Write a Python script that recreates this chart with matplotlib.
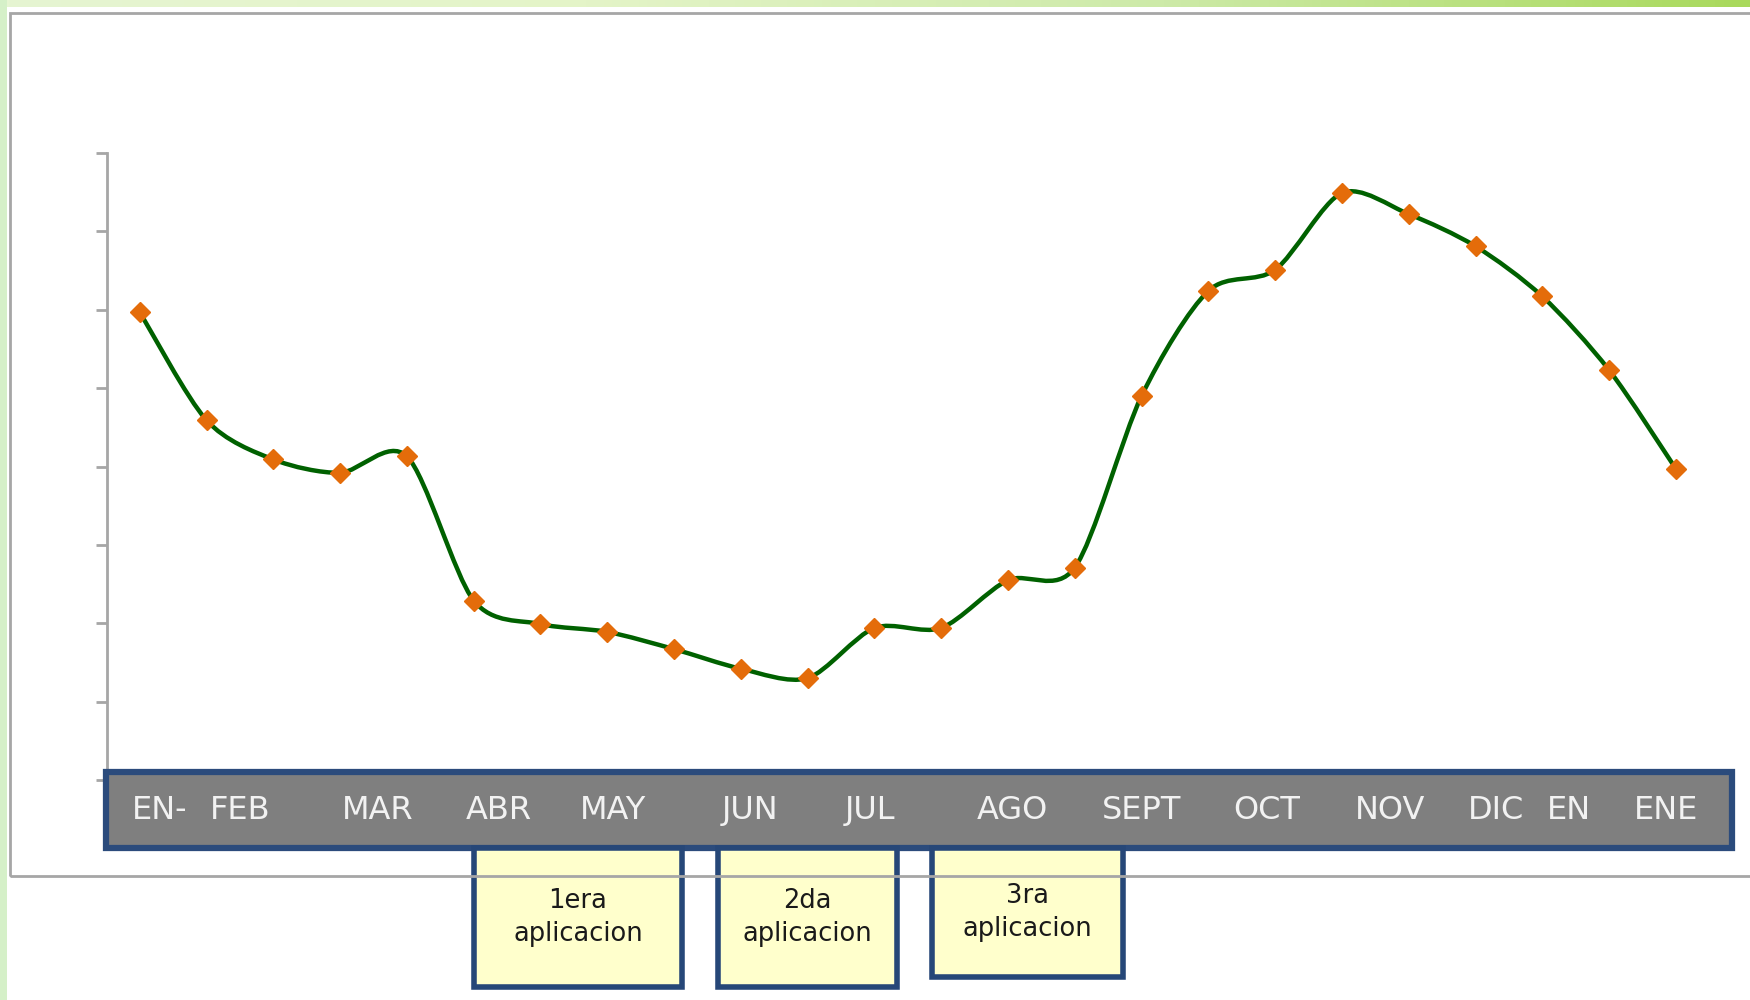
import numpy as np
import matplotlib
matplotlib.use('Agg')
import matplotlib.pyplot as plt
from matplotlib.path import Path
from matplotlib.patches import PathPatch, Rectangle

# Data (no scale labels in the original, so unitless)
values = [5.97, 4.59, 4.09, 3.92, 4.13, 2.29, 1.99, 1.89, 1.67, 1.42, 1.30, 1.94,
          1.94, 2.55, 2.71, 4.90, 6.24, 6.51, 7.49, 7.22, 6.81, 6.17, 5.23, 3.97]
months = ['EN-', 'FEB', 'MAR', 'ABR', 'MAY', 'JUN', 'JUL', 'AGO', 'SEPT', 'OCT',
          'NOV', 'DIC', 'EN', 'ENE']
applications = ['1era\naplicacion', '2da\naplicacion', '3ra\naplicacion']

# layout of the month labels (in point-index units) and of the note boxes (axes fraction)
month_x = [0.3, 1.5, 3.56, 5.38, 7.08, 9.14, 10.94, 13.06, 15.0, 16.88, 18.72, 20.3, 21.4, 22.85]
box_x = [(0.2258, 0.3538), (0.376, 0.486), (0.5077, 0.6252)]
box_bottom = [-0.330, -0.330, -0.314]

fig = plt.figure(figsize=(17.5, 10), dpi=100)
fig.patch.set_facecolor('white')

# slide background strips (green) at top and left
strip = fig.add_axes([0, 0.993, 1, 0.007])
strip.imshow(np.linspace(0, 1, 200).reshape(1, -1), aspect='auto',
             cmap=matplotlib.colors.LinearSegmentedColormap.from_list(
                 'g', ['#e6f5d2', '#e4f4c8', '#cdeaa8', '#a9d95c']))
strip.axis('off')
fig.add_artist(Rectangle((0, 0), 0.004, 1, transform=fig.transFigure,
                         facecolor='#d5f0c8', edgecolor='none'))

# outer chart frame
fig.add_artist(Rectangle((10 / 1750, 1 - 876 / 1000), 1.0, (876 - 13) / 1000,
                         transform=fig.transFigure, facecolor='none',
                         edgecolor='#a6a6a6', lw=2))

ax = fig.add_axes([107 / 1750, 0.22, 1625 / 1750, 0.627])
n = len(values)
x = np.arange(n)
y = np.array(values)

# smoothed line (bezier through the points, like the spreadsheet "smoothed line")
pts = np.column_stack([x, y])
ext = np.vstack([pts[0], pts, pts[-1]])
verts = [pts[0]]
codes = [Path.MOVETO]
for i in range(n - 1):
    p0, p1, p2, p3 = ext[i], ext[i + 1], ext[i + 2], ext[i + 3]
    verts += [p1 + (p2 - p0) / 7, p2 - (p3 - p1) / 7, p2]
    codes += [Path.CURVE4] * 3
ax.add_patch(PathPatch(Path(verts, codes), facecolor='none', edgecolor='#006100',
                       lw=3.2, zorder=2, capstyle='round', joinstyle='round'))
ax.plot(x, y, ls='none', marker='D', ms=10, color='#e46c0a', mec='#e46c0a', zorder=3)

ax.set_xlim(-0.49, 23.84)
ax.set_ylim(0, 8)
ax.set_yticks(range(9))
ax.set_yticklabels([])
ax.set_xticks([])
ax.tick_params(axis='y', length=8, width=2, color='#a6a6a6', direction='out')
for s in ['top', 'right', 'bottom']:
    ax.spines[s].set_visible(False)
ax.spines['left'].set_color('#a6a6a6')
ax.spines['left'].set_linewidth(2)
ax.patch.set_alpha(0)

# month bar
ax.add_patch(Rectangle((-0.0006, -0.1085), 1.0006, 0.1213, transform=ax.transAxes,
                       facecolor='#7f7f7f', edgecolor='#2b4b7c', lw=4.5,
                       clip_on=False, zorder=5))
for lab, mx in zip(months, month_x):
    ax.text(mx, -0.049, lab, transform=ax.get_xaxis_transform(), ha='center',
            va='center', fontsize=23, color='#f2f2f2', zorder=6, clip_on=False)

# application notes
for txt, (x0, x1), yb in zip(applications, box_x, box_bottom):
    ax.add_patch(Rectangle((x0, yb), x1 - x0, -0.1085 - yb, transform=ax.transAxes,
                           facecolor='#ffffcc', edgecolor='#264778', lw=4,
                           clip_on=False, zorder=5))
    ax.text((x0 + x1) / 2, (yb - 0.1085) / 2, txt, transform=ax.transAxes,
            ha='center', va='center', fontsize=18.5, color='#1a1a1a',
            linespacing=1.35, zorder=6, clip_on=False)

fig.savefig('out.png', dpi=100)
